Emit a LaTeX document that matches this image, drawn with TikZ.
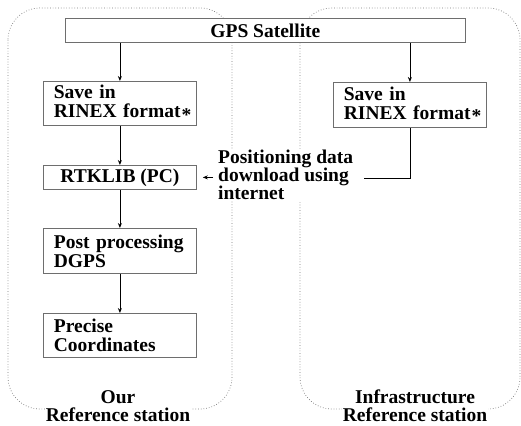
\documentclass[tikz,border=0pt]{standalone}
\usepackage{fontspec}
\setmainfont{Liberation Serif}
\usetikzlibrary{arrows.meta}
\definecolor{boxline}{RGB}{110,110,110}
\definecolor{regline}{RGB}{120,120,120}
\newcommand{\myast}{\kern1pt\raisebox{-3.5pt}{*}}
\newcommand{\ind}{\hspace*{10.5pt}}
\tikzset{
  region/.style={draw=regline, dotted, line width=0.7pt, rounded corners=32pt},
  stepbox/.style={draw=boxline, fill=white, line width=0.8pt, anchor=north west,
    inner xsep=10pt, inner ysep=2pt},
  leftbox/.style={stepbox, inner xsep=0pt, text width=153pt, align=left},
  arr/.style={-{Stealth[length=5pt,width=4pt]}, line width=0.8pt, black},
  plain/.style={line width=0.8pt, black},
  label/.style={fill=white, inner sep=1pt, align=center}
}
\begin{document}
\begin{tikzpicture}[x=1pt,y=-1pt, font=\fontsize{19.5}{19}\selectfont\bfseries]
\useasboundingbox (0,0) rectangle (521,425);
% regions
\draw[region] (8,8) rectangle (232,409);
\draw[region] (300,8) rectangle (520,409);
% boxes
\node[stepbox, minimum width=400pt, minimum height=24pt, align=center] (gps) at (65,18) {GPS Satellite};
\node[leftbox, minimum height=44pt] (save1) at (43,81) {\ind Save in\\\ind RINEX format\myast};
\node[stepbox, minimum width=153pt, minimum height=24pt, align=center] (rtk) at (43,165) {RTKLIB (PC)};
\node[leftbox, minimum height=45pt] (post) at (43,228) {\ind Post processing\\\ind DGPS};
\node[leftbox, minimum height=44pt] (prec) at (43,313) {\ind Precise\\\ind Coordinates};
\node[leftbox, minimum height=45pt] (save2) at (333,82) {\ind Save in\\\ind RINEX format\myast};
% positioning text
\node[label, align=left, anchor=west, font=\fontsize{19.5}{18}\selectfont\bfseries] (pos) at (217,175) {Positioning data\\download using\\internet};
\coordinate (lend) at (364,178);
% arrows
\draw[arr] (save1.north |- gps.south) -- (save1.north);
\draw[arr] (save2.north |- gps.south) -- (save2.north);
\draw[arr] (save1.south) -- (rtk.north);
\draw[arr] (rtk.south) -- (post.north);
\draw[arr] (post.south) -- (prec.north);
\draw[plain] (save2.south) |- (lend);
\draw[arr] ([xshift=-4pt]pos.west |- rtk.east) -- ([xshift=6pt]rtk.east);
% bottom labels
\node[label, font=\fontsize{19.5}{18}\selectfont\bfseries] (lab1) at (118,406) {Our\\Reference station};
\node[label, font=\fontsize{19.5}{18}\selectfont\bfseries] (lab2) at (415,406) {Infrastructure\\Reference station};
\end{tikzpicture}
\end{document}
